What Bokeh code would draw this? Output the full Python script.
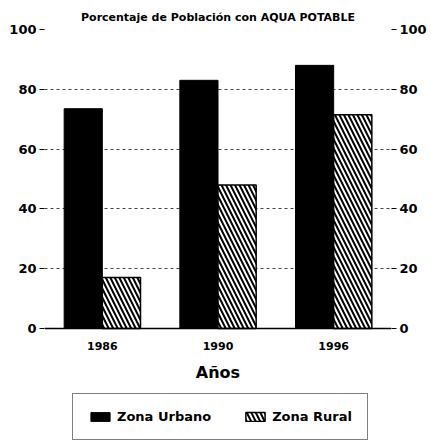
from bokeh.plotting import figure
from bokeh.models import (ColumnDataSource, FactorRange, Range1d, LinearAxis,
                          FixedTicker, Legend, LegendItem)
from bokeh.transform import dodge
from bokeh.embed import file_html
from bokeh.resources import INLINE

years = ["1986", "1990", "1996"]
urbano = [73.5, 83, 88]
rural = [17, 48, 71.5]
y_ticks = [0, 20, 40, 60, 80, 100]
title_text = "Porcentaje de Población con AQUA POTABLE"
x_label = "Años"
series_names = ["Zona Urbano", "Zona Rural"]

FONT = "DejaVu Sans"

src = ColumnDataSource(dict(years=years, urbano=urbano, rural=rural))

# y range extends below 0 so that the legend can sit inside the (invisible) frame
p = figure(width=429, height=444, x_range=FactorRange(factors=years, range_padding=0),
           y_range=Range1d(-37.5, 100), output_backend="svg", toolbar_location=None,
           title=title_text, min_border_left=44, min_border_right=36,
           min_border_top=29, min_border_bottom=4)

p.title.align = "center"
p.title.text_font = FONT
p.title.text_font_style = "bold"
p.title.text_font_size = "11px"
p.title.text_color = "black"
p.title.standoff = 11

p.outline_line_color = None
p.background_fill_color = "white"

r1 = p.vbar(x=dodge("years", -0.165, range=p.x_range), top="urbano", width=0.33,
            source=src, fill_color="black", line_color="black", line_width=1)
r2 = p.vbar(x=dodge("years", 0.165, range=p.x_range), top="rural", width=0.33,
            source=src, fill_color="white", line_color="black", line_width=1.5,
            hatch_pattern="\\", hatch_color="black", hatch_scale=9, hatch_weight=2)

# x axis drawn at y = 0
p.xaxis.fixed_location = 0
p.xaxis.axis_line_color = "black"
p.xaxis.axis_line_width = 1.5
p.xaxis.major_tick_line_color = None
p.xaxis.minor_tick_line_color = None
p.xaxis.major_label_text_font = FONT
p.xaxis.major_label_text_font_style = "bold"
p.xaxis.major_label_text_font_size = "11px"
p.xaxis.major_label_text_color = "black"
p.xaxis.major_label_standoff = 8
p.xaxis.axis_label = x_label
p.xaxis.axis_label_text_font = FONT
p.xaxis.axis_label_text_font_style = "bold"
p.xaxis.axis_label_text_font_size = "16px"
p.xaxis.axis_label_text_color = "black"
p.xaxis.axis_label_standoff = 9

p.yaxis.ticker = FixedTicker(ticks=y_ticks)
right_axis = LinearAxis(ticker=FixedTicker(ticks=y_ticks))
p.add_layout(right_axis, "right")
for ax in (p.yaxis[0], right_axis):
    ax.axis_line_color = None
    ax.major_tick_line_color = "black"
    ax.major_tick_line_width = 1.2
    ax.major_tick_in = 0
    ax.major_tick_out = 5
    ax.minor_tick_line_color = None
    ax.major_label_text_font = FONT
    ax.major_label_text_font_style = "bold"
    ax.major_label_text_font_size = "13px"
    ax.major_label_text_color = "black"
    ax.major_label_standoff = 3

p.xgrid.grid_line_color = None
p.ygrid.ticker = FixedTicker(ticks=[20, 40, 60, 80, 100])
p.ygrid.grid_line_color = "#444444"
p.ygrid.grid_line_width = 1
p.ygrid.grid_line_dash = "3 3"

legend = Legend(items=[LegendItem(label=series_names[0], renderers=[r1]),
                       LegendItem(label=series_names[1], renderers=[r2])],
                orientation="horizontal", location=(28, 0))
legend.label_text_font = FONT
legend.label_text_font_style = "bold"
legend.label_text_font_size = "13px"
legend.label_text_color = "black"
legend.border_line_color = "black"
legend.border_line_width = 1.5
legend.glyph_width = 24
legend.glyph_height = 11
legend.label_standoff = 5
legend.spacing = 32
legend.padding = 15
legend.margin = 0
p.add_layout(legend, "center")

open("out.html", "w").write(file_html(p, INLINE))
